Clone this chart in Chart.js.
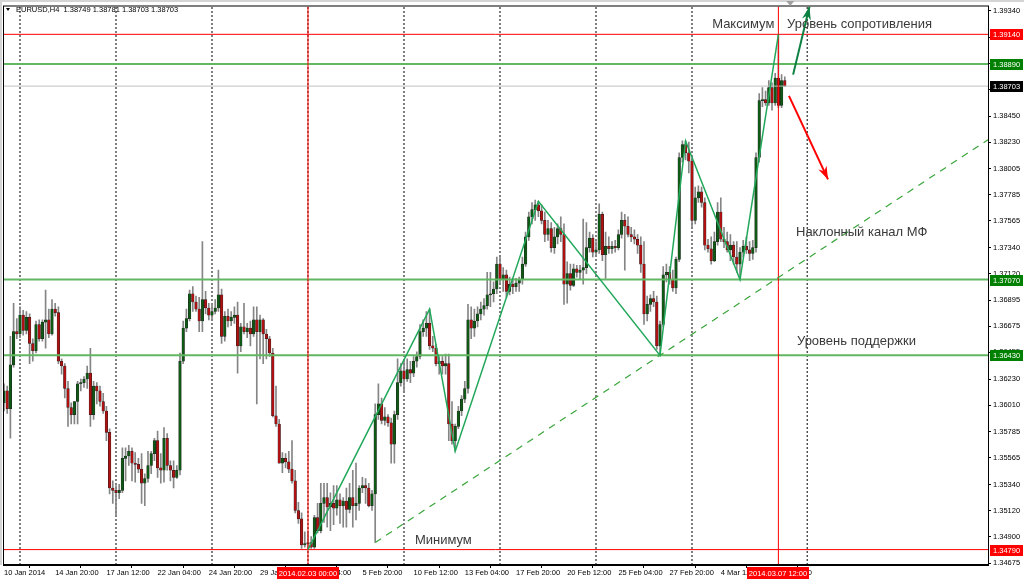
<!DOCTYPE html>
<html>
<head>
<meta charset="utf-8">
<script src="https://cdn.jsdelivr.net/npm/chart.js@4.4.1/dist/chart.umd.min.js"></script>
<style>
  html, body { margin: 0; padding: 0; background: #fff; }
  canvas { display: block; }
</style>
</head>
<body>
<canvas id="chart" width="1024" height="581"></canvas>
<script>
// EURUSD H4, 10 Jan 2014 04:00 .. 7 Mar 2014 20:00, one entry per bar
const opens = [
  1.3603,1.3613,1.3598,1.3635,1.3663,1.3661,1.3677,1.3664,1.3675,1.3653,
  1.3647,1.3669,1.3657,1.3671,1.3673,1.3661,1.3682,1.3679,1.3638,1.3634,
  1.3615,1.3599,1.3593,1.3604,1.3619,1.3620,1.3623,1.3628,1.3593,1.3617,
  1.3613,1.3604,1.3596,1.3578,1.3531,1.3529,1.3527,1.3529,1.3556,1.3558,
  1.3562,1.3552,1.3551,1.3547,1.3535,1.3539,1.3550,1.3560,1.3571,1.3548,
  1.3546,1.3573,1.3550,1.3546,1.3540,1.3546,1.3638,1.3666,1.3674,1.3695,
  1.3688,1.3682,1.3672,1.3690,1.3683,1.3677,1.3680,1.3683,1.3694,1.3659,
  1.3676,1.3672,1.3675,1.3677,1.3651,1.3667,1.3663,1.3666,1.3661,1.3673,
  1.3663,1.3673,1.3661,1.3657,1.3645,1.3592,1.3585,1.3552,1.3556,1.3553,
  1.3547,1.3537,1.3512,1.3505,1.3483,1.3484,1.3485,1.3481,1.3506,1.3495,
  1.3518,1.3523,1.3515,1.3518,1.3514,1.3521,1.3516,1.3520,1.3513,1.3523,
  1.3516,1.3518,1.3531,1.3533,1.3531,1.3516,1.3526,1.3593,1.3602,1.3588,
  1.3591,1.3586,1.3568,1.3593,1.3620,1.3630,1.3623,1.3631,1.3628,1.3638,
  1.3642,1.3663,1.3666,1.3670,1.3651,1.3649,1.3636,1.3638,1.3634,1.3636,
  1.3585,1.3571,1.3583,1.3596,1.3606,1.3615,1.3673,1.3666,1.3672,1.3678,
  1.3682,1.3685,1.3694,1.3695,1.3699,1.3720,1.3707,1.3711,1.3697,1.3703,
  1.3701,1.3704,1.3707,1.3720,1.3743,1.3760,1.3766,1.3770,1.3765,1.3757,
  1.3745,1.3750,1.3734,1.3743,1.3750,1.3745,1.3703,1.3712,1.3702,1.3716,
  1.3713,1.3715,1.3717,1.3734,1.3742,1.3730,1.3732,1.3762,1.3728,1.3735,
  1.3733,1.3735,1.3734,1.3745,1.3757,1.3752,1.3745,1.3743,1.3741,1.3736,
  1.3720,1.3678,1.3686,1.3691,1.3688,1.3651,1.3669,1.3711,1.3713,1.3707,
  1.3700,1.3724,1.3810,1.3821,1.3814,1.3807,1.3757,1.3776,1.3781,1.3772,
  1.3736,1.3733,1.3723,1.3739,1.3764,1.3741,1.3739,1.3732,1.3736,1.3726,
  1.3720,1.3730,1.3735,1.3732,1.3729,1.3734,1.3810,1.3858,1.3859,1.3856,
  1.3869,1.3856,1.3877,1.3854,1.38749
];
const highs = [
  1.3619,1.3617,1.3659,1.3687,1.3674,1.3684,1.3681,1.3680,1.3678,1.3657,
  1.3672,1.3673,1.3673,1.3698,1.3682,1.3690,1.3687,1.3684,1.3640,1.3636,
  1.3621,1.3603,1.3604,1.3621,1.3623,1.3625,1.3634,1.3649,1.3621,1.3620,
  1.3617,1.3611,1.3600,1.3581,1.3537,1.3533,1.3534,1.3565,1.3565,1.3567,
  1.3565,1.3561,1.3556,1.3560,1.3543,1.3562,1.3562,1.3573,1.3579,1.3560,
  1.3582,1.3577,1.3554,1.3554,1.3550,1.3645,1.3672,1.3682,1.3698,1.3701,
  1.3693,1.3692,1.3739,1.3697,1.3687,1.3687,1.3690,1.3715,1.3699,1.3680,
  1.3682,1.3680,1.3684,1.3688,1.3670,1.3687,1.3670,1.3672,1.3684,1.3684,
  1.3677,1.3674,1.3665,1.3659,1.3649,1.3617,1.3589,1.3561,1.3560,1.3562,
  1.3571,1.3546,1.3519,1.3510,1.3494,1.3493,1.3490,1.3508,1.3518,1.3535,
  1.3535,1.3535,1.3527,1.3533,1.3533,1.3526,1.3523,1.3531,1.3535,1.3546,
  1.3552,1.3533,1.3540,1.3539,1.3535,1.3529,1.3602,1.3619,1.3607,1.3599,
  1.3593,1.3590,1.3596,1.3640,1.3636,1.3638,1.3640,1.3638,1.3642,1.3646,
  1.3669,1.3673,1.3680,1.3682,1.3659,1.3652,1.3642,1.3642,1.3644,1.3644,
  1.3604,1.3585,1.3600,1.3609,1.3621,1.3686,1.3684,1.3682,1.3684,1.3688,
  1.3691,1.3713,1.3713,1.3705,1.3726,1.3726,1.3717,1.3715,1.3709,1.3708,
  1.3708,1.3709,1.3726,1.3747,1.3764,1.3772,1.3774,1.3773,1.3770,1.3764,
  1.3757,1.3755,1.3751,1.3754,1.3760,1.3754,1.3722,1.3720,1.3720,1.3719,
  1.3719,1.3758,1.3755,1.3747,1.3745,1.3739,1.3771,1.3764,1.3747,1.3743,
  1.3739,1.3740,1.3749,1.3764,1.3762,1.3760,1.3751,1.3749,1.3745,1.3743,
  1.3739,1.3693,1.3694,1.3697,1.3693,1.3672,1.3718,1.3720,1.3718,1.3715,
  1.3726,1.3814,1.3824,1.3824,1.3823,1.3810,1.3785,1.3786,1.3785,1.3776,
  1.3741,1.3743,1.3747,1.3772,1.3776,1.3751,1.3747,1.3745,1.3739,1.3739,
  1.3734,1.3740,1.3743,1.3739,1.3740,1.3814,1.3864,1.3869,1.3866,1.3875,
  1.3873,1.3881,1.3914,1.3880,1.38781
];
const lows = [
  1.3596,1.3594,1.3573,1.3633,1.3657,1.3658,1.3660,1.3661,1.3636,1.3638,
  1.3645,1.3655,1.3655,1.3649,1.3658,1.3660,1.3676,1.3636,1.3627,1.3607,
  1.3583,1.3585,1.3585,1.3585,1.3613,1.3616,1.3615,1.3583,1.3589,1.3602,
  1.3600,1.3594,1.3571,1.3526,1.3518,1.3508,1.3522,1.3527,1.3537,1.3550,
  1.3537,1.3536,1.3544,1.3518,1.3516,1.3536,1.3543,1.3554,1.3540,1.3535,
  1.3536,1.3546,1.3537,1.3531,1.3539,1.3542,1.3636,1.3663,1.3672,1.3680,
  1.3680,1.3663,1.3663,1.3678,1.3673,1.3673,1.3678,1.3680,1.3653,1.3655,
  1.3667,1.3668,1.3670,1.3628,1.3646,1.3661,1.3658,1.3651,1.3659,1.3602,
  1.3640,1.3636,1.3640,1.3642,1.3591,1.3583,1.3552,1.3544,1.3548,1.3544,
  1.3535,1.3510,1.3501,1.3480,1.3481,1.3479,1.3480,1.3480,1.3493,1.3493,
  1.3502,1.3498,1.3495,1.3500,1.3508,1.3501,1.3498,1.3498,1.3510,1.3498,
  1.3504,1.3512,1.3527,1.3518,1.3515,1.3512,1.3485,1.3589,1.3585,1.3584,
  1.3583,1.3552,1.3552,1.3589,1.3617,1.3613,1.3621,1.3620,1.3625,1.3633,
  1.3640,1.3659,1.3659,1.3648,1.3646,1.3634,1.3627,1.3627,1.3627,1.3571,
  1.3568,1.3562,1.3581,1.3592,1.3603,1.3611,1.3657,1.3659,1.3667,1.3673,
  1.3677,1.3682,1.3684,1.3688,1.3695,1.3703,1.3697,1.3692,1.3694,1.3695,
  1.3697,1.3697,1.3703,1.3718,1.3740,1.3754,1.3757,1.3760,1.3754,1.3739,
  1.3740,1.3730,1.3729,1.3737,1.3739,1.3686,1.3687,1.3698,1.3701,1.3709,
  1.3707,1.3703,1.3712,1.3730,1.3726,1.3727,1.3729,1.3723,1.3708,1.3729,
  1.3729,1.3730,1.3732,1.3742,1.3715,1.3743,1.3739,1.3737,1.3729,1.3713,
  1.3669,1.3672,1.3680,1.3684,1.3648,1.3643,1.3667,1.3705,1.3703,1.3697,
  1.3695,1.3722,1.3806,1.3808,1.3797,1.3751,1.3754,1.3772,1.3768,1.3732,
  1.3730,1.3720,1.3722,1.3736,1.3739,1.3734,1.3730,1.3723,1.3720,1.3713,
  1.3707,1.3726,1.3729,1.3723,1.3724,1.3730,1.3806,1.3853,1.3854,1.3854,
  1.3850,1.3854,1.3852,1.3852,1.38703
];
const closes = [
  1.3613,1.3598,1.3635,1.3663,1.3661,1.3677,1.3664,1.3675,1.3653,1.3647,
  1.3669,1.3657,1.3671,1.3673,1.3661,1.3682,1.3679,1.3638,1.3634,1.3615,
  1.3599,1.3593,1.3604,1.3619,1.3620,1.3623,1.3628,1.3593,1.3617,1.3613,
  1.3604,1.3596,1.3578,1.3531,1.3529,1.3527,1.3529,1.3556,1.3558,1.3562,
  1.3552,1.3551,1.3547,1.3535,1.3539,1.3550,1.3560,1.3571,1.3548,1.3546,
  1.3573,1.3550,1.3546,1.3540,1.3546,1.3638,1.3666,1.3674,1.3695,1.3688,
  1.3682,1.3672,1.3690,1.3683,1.3677,1.3680,1.3683,1.3694,1.3659,1.3676,
  1.3672,1.3675,1.3677,1.3651,1.3667,1.3663,1.3666,1.3661,1.3673,1.3663,
  1.3673,1.3661,1.3657,1.3645,1.3592,1.3585,1.3552,1.3556,1.3553,1.3547,
  1.3537,1.3512,1.3505,1.3483,1.3484,1.3485,1.3481,1.3506,1.3495,1.3518,
  1.3523,1.3515,1.3518,1.3514,1.3521,1.3516,1.3520,1.3513,1.3523,1.3516,
  1.3518,1.3531,1.3533,1.3531,1.3516,1.3526,1.3593,1.3602,1.3588,1.3591,
  1.3586,1.3568,1.3593,1.3620,1.3630,1.3623,1.3631,1.3628,1.3638,1.3642,
  1.3663,1.3666,1.3670,1.3651,1.3649,1.3636,1.3638,1.3634,1.3636,1.3585,
  1.3571,1.3583,1.3596,1.3606,1.3615,1.3673,1.3666,1.3672,1.3678,1.3682,
  1.3685,1.3694,1.3695,1.3699,1.3720,1.3707,1.3711,1.3697,1.3703,1.3701,
  1.3704,1.3707,1.3720,1.3743,1.3760,1.3766,1.3770,1.3765,1.3757,1.3745,
  1.3750,1.3734,1.3743,1.3750,1.3745,1.3703,1.3712,1.3702,1.3716,1.3713,
  1.3715,1.3717,1.3734,1.3742,1.3730,1.3732,1.3762,1.3728,1.3735,1.3733,
  1.3735,1.3734,1.3745,1.3757,1.3752,1.3745,1.3743,1.3741,1.3736,1.3720,
  1.3678,1.3686,1.3691,1.3688,1.3651,1.3669,1.3711,1.3713,1.3707,1.3700,
  1.3724,1.3810,1.3821,1.3814,1.3807,1.3757,1.3776,1.3781,1.3772,1.3736,
  1.3733,1.3723,1.3739,1.3764,1.3741,1.3739,1.3732,1.3736,1.3726,1.3720,
  1.3730,1.3735,1.3732,1.3729,1.3734,1.3810,1.3858,1.3859,1.3856,1.3869,
  1.3856,1.3877,1.3854,1.3875,1.38703
];

// time axis labels (bar index -> label)
const xTickIdx = [0, 16, 32, 48, 64, 80, 96, 112, 128, 144, 160, 176, 192, 208, 224, 240];
const xTickLabels = [
  "10 Jan 2014", "14 Jan 20:00", "17 Jan 12:00", "22 Jan 04:00", "24 Jan 20:00",
  "29 Jan 12:00", "3 Feb 04:00", "5 Feb 20:00", "10 Feb 12:00", "13 Feb 04:00",
  "17 Feb 20:00", "20 Feb 12:00", "25 Feb 04:00", "27 Feb 20:00", "4 Mar 12:00", "7 Mar 04:00"
];
const yTicks = [
  1.39340, 1.39115, 1.38895, 1.38675, 1.38450, 1.38230, 1.38005, 1.37785, 1.37565,
  1.37340, 1.37120, 1.36895, 1.36675, 1.36455, 1.36230, 1.36010, 1.35785, 1.35565,
  1.35340, 1.35120, 1.34900, 1.34675
];
const weekStarts = [5, 35, 65, 95, 125, 155, 185, 215, 251]; // Monday 00:00 bars

// drawn objects
const redLevels = [1.3914, 1.3479];
const greenLevels = [1.3889, 1.3707, 1.3643];
const bidPrice = 1.38703;
const redTimes = [95, 242];
const redTimeLabels = ["2014.02.03 00:00", "2014.03.07 12:00"];
const zigzagIdx = [95, 133, 141, 167, 205, 213, 230, 242];
const zigzagPrice = [1.3479, 1.3682, 1.3562, 1.3773, 1.3643, 1.3824, 1.3707, 1.3914];
const trendIdx = [116, 307.5];
const trendPrice = [1.3485, 1.3825];
const upArrowIdx = [246.6, 251.7];
const upArrowPrice = [1.3880, 1.39372];
const downArrowIdx = [245.3, 257.5];
const downArrowPrice = [1.3862, 1.37915];

const priceTags = ["1.39140", "1.38890", "1.38703", "1.37070", "1.36430", "1.34790"];
const priceTagColors = ["#ff0000", "#008000", "#000000", "#008000", "#008000", "#ff0000"];

const noteTexts = ["Максимум", "Уровень сопротивления", "Наклонный канал МФ", "Уровень поддержки", "Минимум"];
const noteIdx = [221.3, 244.7, 247.5, 247.8, 128.4];
const notePrice = [1.39225, 1.39225, 1.37470, 1.36550, 1.34870];

const X_MIN = -0.31, X_MAX = 307.5;
const Y_MIN = 1.3466, Y_MAX = 1.39375;

const FONT = "'Liberation Sans', Arial, sans-serif";
const BULL = "#0e5a14";
const BEAR = "#b01010";

// helpers to turn value lists into line data
function vLines(list) {
  return list.flatMap((i) => [{ x: i, y: Y_MIN }, { x: i, y: Y_MAX }, { x: i, y: null }]);
}
function hLines(list) {
  return list.flatMap((p) => [{ x: X_MIN, y: p }, { x: X_MAX, y: p }, { x: X_MAX, y: null }]);
}
function pairs(xs, ys) {
  return xs.map((x, i) => ({ x, y: ys[i] }));
}
function lineSet(data, color, width, order, dash) {
  return {
    type: "line",
    data,
    borderColor: color,
    borderWidth: width,
    borderDash: dash || [],
    pointRadius: 0,
    fill: false,
    tension: 0,
    spanGaps: false,
    order,
  };
}

const overlay = {
  id: "overlay",
  afterDraw(chart) {
    const { ctx, chartArea: a, scales } = chart;
    const xs = scales.x, ys = scales.y;
    ctx.save();

    // frame
    ctx.fillStyle = "#d4d4d4";
    ctx.fillRect(0, 0, 1024, 2);
    ctx.fillRect(0, 0, 2, a.bottom);
    ctx.strokeStyle = "#000";
    ctx.lineWidth = 1;
    ctx.strokeRect(a.left + 0.5, a.top - 0.5, a.right - a.left, a.bottom - a.top);

    // chart shift marker
    const sx = xs.getPixelForValue(closes.length + 0.7);
    ctx.fillStyle = "#a0a0a0";
    ctx.beginPath();
    ctx.moveTo(sx - 4, 1);
    ctx.lineTo(sx + 4, 1);
    ctx.lineTo(sx, 6);
    ctx.closePath();
    ctx.fill();

    // title
    ctx.fillStyle = "#000";
    ctx.beginPath();
    ctx.moveTo(6, 8);
    ctx.lineTo(10, 8);
    ctx.lineTo(8, 11);
    ctx.closePath();
    ctx.fill();
    ctx.font = "7.5px " + FONT;
    ctx.textBaseline = "middle";
    ctx.textAlign = "left";
    const last = closes.length - 1;
    ctx.fillText(
      "EURUSD,H4  " + [opens[last], highs[last], lows[last], closes[last]].map((v) => v.toFixed(5)).join(" "),
      16, 10
    );

    // notes
    ctx.font = "13px " + FONT;
    ctx.fillStyle = "#3a3a3a";
    noteTexts.forEach((t, i) => {
      ctx.fillText(t, xs.getPixelForValue(noteIdx[i]), ys.getPixelForValue(notePrice[i]));
    });

    // arrow heads
    const head = (xv, yv, color) => {
      const x1 = xs.getPixelForValue(xv[0]), y1 = ys.getPixelForValue(yv[0]);
      const x2 = xs.getPixelForValue(xv[1]), y2 = ys.getPixelForValue(yv[1]);
      const ang = Math.atan2(y2 - y1, x2 - x1);
      const L = 13, W = 4.5, N = 9;
      const bx = x2 - L * Math.cos(ang), by = y2 - L * Math.sin(ang);
      const nx = x2 - N * Math.cos(ang), ny = y2 - N * Math.sin(ang);
      ctx.fillStyle = color;
      ctx.beginPath();
      ctx.moveTo(x2, y2);
      ctx.lineTo(bx + W * Math.sin(ang), by - W * Math.cos(ang));
      ctx.lineTo(nx, ny);
      ctx.lineTo(bx - W * Math.sin(ang), by + W * Math.cos(ang));
      ctx.closePath();
      ctx.fill();
    };
    head(upArrowIdx, upArrowPrice, "#0c8040");
    head(downArrowIdx, downArrowPrice, "#ff0000");

    // price tags on the right axis
    ctx.font = "7.5px " + FONT;
    priceTags.forEach((t, i) => {
      const y = Math.round(ys.getPixelForValue(parseFloat(t)));
      ctx.fillStyle = priceTagColors[i];
      ctx.fillRect(a.right + 2, y - 5, 33, 11);
      ctx.fillStyle = "#fff";
      ctx.fillText(t, a.right + 5, y + 0.5);
    });

    // time tags on the bottom axis
    ctx.textAlign = "center";
    redTimes.forEach((idx, i) => {
      const x = Math.round(xs.getPixelForValue(idx));
      ctx.fillStyle = "#ff0000";
      ctx.fillRect(x - 31, a.bottom + 2, 62, 12);
      ctx.fillStyle = "#fff";
      ctx.fillText(redTimeLabels[i], x, a.bottom + 8.5);
    });

    ctx.restore();
  },
};

new Chart(document.getElementById("chart"), {
  type: "bar",
  data: {
    datasets: [
      lineSet(vLines(weekStarts), "#000", 1, 30, [2, 2]),
      {
        type: "bar",
        data: highs.map((h, i) => ({ x: i, y: [lows[i], h] })),
        backgroundColor: "#858585",
        barThickness: 1,
        grouped: false,
        order: 25,
      },
      {
        type: "bar",
        data: opens.map((o, i) => ({ x: i, y: [o, closes[i]] })),
        backgroundColor: opens.map((o, i) => (closes[i] >= o ? BULL : BEAR)),
        borderColor: "#222",
        borderWidth: 0.5,
        borderSkipped: false,
        barThickness: 2.6,
        minBarLength: 1,
        grouped: false,
        order: 24,
      },
      lineSet(hLines([bidPrice]), "#c0c0c0", 1, 20),
      lineSet(hLines(greenLevels), "#62b862", 2, 18),
      lineSet(hLines(redLevels), "#ff0000", 1, 17),
      lineSet(vLines(redTimes), "#ff0000", 1, 16),
      lineSet(pairs(trendIdx, trendPrice), "#3aa63a", 1.2, 12, [7, 6]),
      lineSet(pairs(zigzagIdx, zigzagPrice), "#22a85a", 1.5, 11),
      lineSet(pairs(upArrowIdx, upArrowPrice), "#0c8040", 2, 5),
      lineSet(pairs(downArrowIdx, downArrowPrice), "#ff0000", 2, 5),
    ],
  },
  options: {
    responsive: false,
    devicePixelRatio: 1,
    animation: false,
    events: [],
    layout: { padding: { left: 3, top: 3, right: 0, bottom: 0 } },
    plugins: { legend: { display: false }, tooltip: { enabled: false } },
    scales: {
      x: {
        type: "linear",
        min: X_MIN,
        max: X_MAX,
        offset: false,
        afterBuildTicks: (axis) => { axis.ticks = xTickIdx.map((v) => ({ value: v })); },
        afterFit: (axis) => { axis.height = 16; },
        grid: { drawOnChartArea: false, drawTicks: true, tickLength: 3, color: "#000" },
        border: { display: true, color: "#000" },
        ticks: {
          autoSkip: false,
          maxRotation: 0,
          minRotation: 0,
          align: "start",
          padding: 0,
          color: "#000",
          font: { family: FONT, size: 7.5 },
          callback: (v, i) => xTickLabels[i],
        },
      },
      y: {
        type: "linear",
        position: "right",
        min: Y_MIN,
        max: Y_MAX,
        afterBuildTicks: (axis) => { axis.ticks = yTicks.map((v) => ({ value: v })); },
        afterFit: (axis) => { axis.width = 36; },
        grid: { drawOnChartArea: false, drawTicks: true, tickLength: 3, color: "#000" },
        border: { display: true, color: "#000" },
        ticks: {
          autoSkip: false,
          padding: 2,
          color: "#000",
          font: { family: FONT, size: 7.5 },
          callback: (v) => v.toFixed(5),
        },
      },
    },
  },
  plugins: [overlay],
});
</script>
</body>
</html>
